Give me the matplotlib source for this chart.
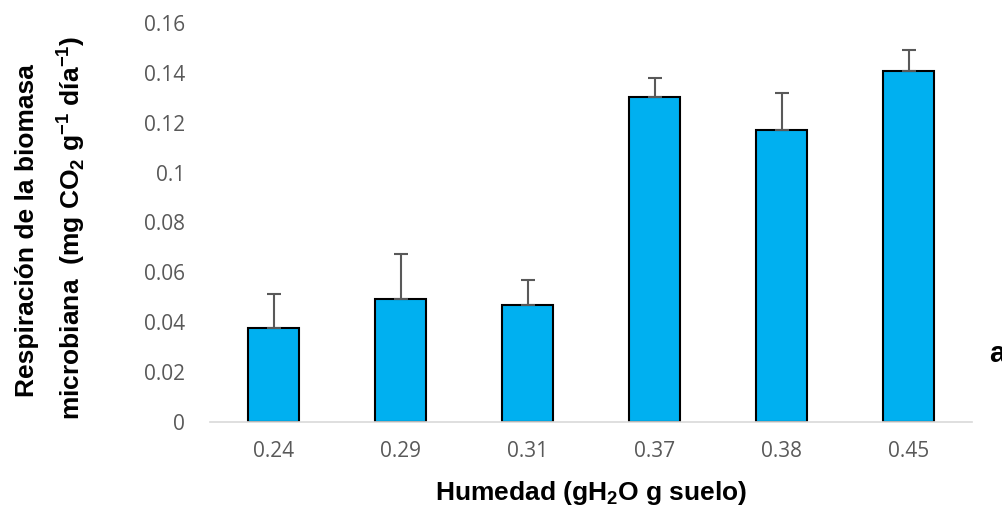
import matplotlib.pyplot as plt
import numpy as np

plt.rcParams['mathtext.fontset'] = 'custom'
plt.rcParams['mathtext.rm'] = 'Liberation Sans'
plt.rcParams['mathtext.bf'] = 'Liberation Sans:bold'

# datos
humedad = ['0.24', '0.29', '0.31', '0.37', '0.38', '0.45']
respiracion = [0.0377, 0.0495, 0.0469, 0.1302, 0.1169, 0.1407]
error = [0.0138, 0.0180, 0.0100, 0.0078, 0.0152, 0.0086]
yticks = [0, 0.02, 0.04, 0.06, 0.08, 0.1, 0.12, 0.14, 0.16]
ytick_labels = ['0', '0.02', '0.04', '0.06', '0.08', '0.1', '0.12', '0.14', '0.16']

fig = plt.figure(figsize=(10.03, 5.12), dpi=100)
ax = fig.add_axes([0.2094, 0.1758, 0.7597, 0.7793])

x = np.arange(len(humedad))
ax.bar(x, respiracion, width=0.4, color='#00b0f0', edgecolor='black', linewidth=1.5,
       yerr=[np.zeros(len(error)), error], capsize=5,
       error_kw=dict(ecolor='#595959', elinewidth=1.5, capthick=1.5))

ax.set_xlim(-0.5, len(humedad) - 0.5)
ax.set_ylim(0, 0.16)
ax.set_yticks(yticks)
ax.set_yticklabels(ytick_labels)
ax.set_xticks(x)
ax.set_xticklabels(humedad)
ax.tick_params(length=0, labelsize=15, labelcolor='#595959')
ax.tick_params(axis='x', pad=14)
ax.tick_params(axis='y', pad=18)
for lab in ax.get_xticklabels() + ax.get_yticklabels():
    lab.set_family('Open Sans')

for s in ['top', 'right', 'left']:
    ax.spines[s].set_visible(False)
ax.spines['bottom'].set_color('#d9d9d9')
ax.spines['bottom'].set_linewidth(1.2)

# titulo eje x
fig.text(0.589, 1 - 493 / 512, 'Humedad (gH$_\\mathbf{2}$O g suelo)', ha='center', va='center',
         fontsize=19, fontweight='bold', family='Liberation Sans')

# titulo eje y en dos lineas
fig.text(0.027, 0.549, 'Respiración de la biomasa', rotation=90, ha='center', va='center',
         fontsize=19, fontweight='bold', family='Liberation Sans')
fig.text(0.070, 0.556, 'microbiana  (mg CO$_\\mathbf{2}$ g$^\\mathbf{-1}$ día$^\\mathbf{-1}$)',
         rotation=90, ha='center', va='center',
         fontsize=19, fontweight='bold', family='Liberation Sans')

fig.text(0.986, 1 - 362 / 512, 'a', ha='left', va='baseline', fontsize=21,
         fontweight='bold', family='Liberation Sans')

plt.savefig('out.png', dpi=100)
